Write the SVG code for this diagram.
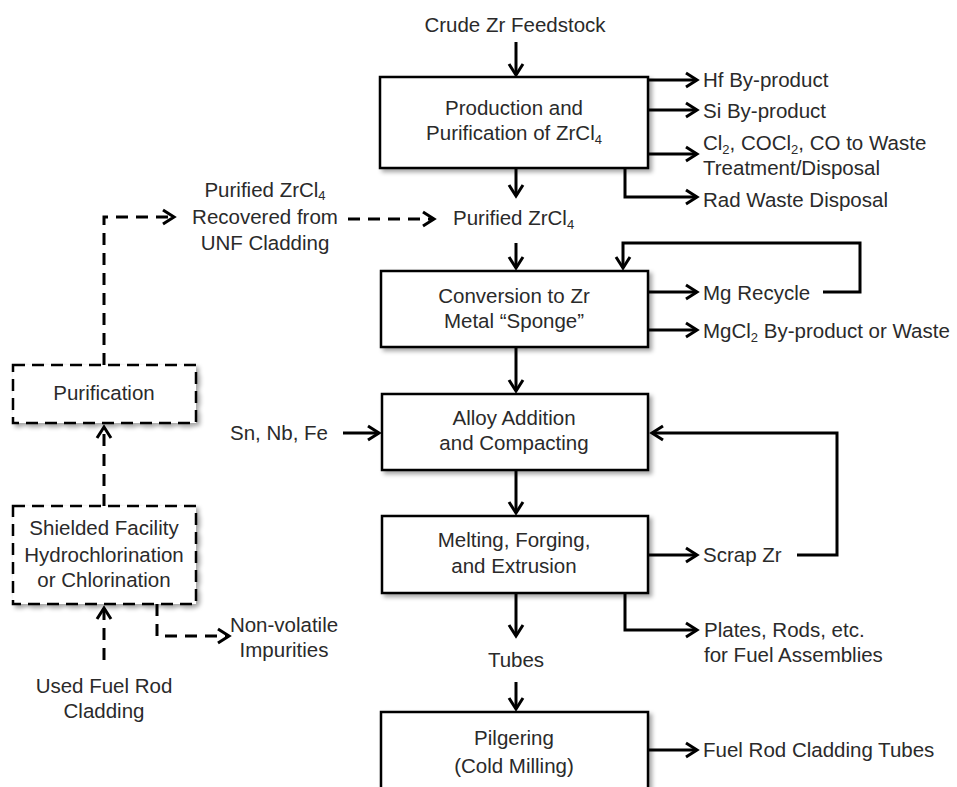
<svg xmlns="http://www.w3.org/2000/svg" width="957" height="787" viewBox="0 0 957 787">
<style>
text{font-family:"Liberation Sans",Arial,sans-serif;font-size:20.5px;fill:#2a2a2a}
.m{text-anchor:middle}
.box{fill:#fff;stroke:#000;stroke-width:2.5;filter:url(#sh)}
.dbox{fill:#fff;stroke:#000;stroke-width:2.5;stroke-dasharray:12 7;filter:url(#sh)}
.c{fill:none;stroke:#000;stroke-width:3;marker-end:url(#ah)}
.d{fill:none;stroke:#000;stroke-width:3;stroke-dasharray:12 8;marker-end:url(#ah)}
.sub{font-size:13px}
</style>
<defs>
<filter id="sh" x="-10%" y="-10%" width="125%" height="130%">
<feDropShadow dx="3" dy="3" stdDeviation="2" flood-color="#000" flood-opacity="0.35"/>
</filter>
<marker id="ah" markerUnits="userSpaceOnUse" viewBox="0 0 16 18" refX="13" refY="9" markerWidth="16" markerHeight="18" orient="auto">
<path d="M2,2 L13,9 L2,16" fill="none" stroke="#000" stroke-width="3"/>
</marker>
</defs>
<rect width="957" height="787" fill="#fff"/>
<g id="connectors">
<path class="c" d="M516,42 V75"/>
<path class="c" d="M648,80 H697"/>
<path class="c" d="M648,110 H697"/>
<path class="c" d="M648,154 H697"/>
<path class="c" d="M625,168 V197 H697"/>
<path class="c" d="M516,168 V196"/>
<path class="c" d="M516,243 V268"/>
<path class="c" d="M648,292 H697"/>
<path class="c" d="M823,292 H860 V243 H623 V268"/>
<path class="c" d="M648,330 H697"/>
<path class="c" d="M516,347 V391"/>
<path class="c" d="M343,433 H379"/>
<path class="c" d="M516,470 V513"/>
<path class="c" d="M648,555 H697"/>
<path class="c" d="M797,555 H837 V433 H652"/>
<path class="c" d="M625,593 V630 H697"/>
<path class="c" d="M516,593 V636"/>
<path class="c" d="M516,682 V709"/>
<path class="c" d="M648,750 H697"/>
<path class="d" d="M104,660 V608"/>
<path class="d" d="M104,506 V427"/>
<path class="d" d="M104,365 V217 H174"/>
<path class="d" d="M348,219 H434"/>
<path class="d" d="M157,604 V636 H229"/>
</g>
<g id="crude"><text class="m" x="515" y="32">Crude Zr Feedstock</text></g>
<g id="production">
<rect class="box" x="380" y="77" width="268" height="91"/>
<text class="m" x="514" y="115">Production and</text>
<text class="m" x="514" y="140">Purification of ZrCl<tspan class="sub" dy="4">4</tspan></text>
</g>
<g id="hf"><text x="703" y="87">Hf By-product</text></g>
<g id="si"><text x="703" y="118">Si By-product</text></g>
<g id="cl2"><text x="703" y="150">Cl<tspan class="sub" dy="4">2</tspan><tspan dy="-4">, COCl</tspan><tspan class="sub" dy="4">2</tspan><tspan dy="-4">, CO to Waste</tspan></text>
<text x="703" y="175">Treatment/Disposal</text></g>
<g id="rad"><text x="703" y="207">Rad Waste Disposal</text></g>
<g id="purified"><text x="453" y="225">Purified ZrCl<tspan class="sub" dy="4">4</tspan></text></g>
<g id="recovered">
<text class="m" x="265" y="197">Purified ZrCl<tspan class="sub" dy="3">4</tspan></text>
<text class="m" x="265" y="224">Recovered from</text>
<text class="m" x="265" y="250">UNF Cladding</text>
</g>
<g id="conversion">
<rect class="box" x="381" y="271" width="267" height="76"/>
<text class="m" x="514" y="303">Conversion to Zr</text>
<text class="m" x="514" y="328">Metal “Sponge”</text>
</g>
<g id="mg"><text x="703" y="300">Mg Recycle</text></g>
<g id="mgcl2"><text x="703" y="338">MgCl<tspan class="sub" dy="4">2</tspan><tspan dy="-4"> By-product or Waste</tspan></text></g>
<g id="purification">
<rect class="dbox" x="13" y="365" width="183" height="58"/>
<text class="m" x="104" y="400">Purification</text>
</g>
<g id="snnbfe"><text x="230" y="440">Sn, Nb, Fe</text></g>
<g id="alloy">
<rect class="box" x="382" y="394" width="266" height="76"/>
<text class="m" x="514" y="425">Alloy Addition</text>
<text class="m" x="514" y="450">and Compacting</text>
</g>
<g id="melting">
<rect class="box" x="382" y="516" width="266" height="77"/>
<text class="m" x="514" y="547">Melting, Forging,</text>
<text class="m" x="514" y="573">and Extrusion</text>
</g>
<g id="scrap"><text x="703" y="562">Scrap Zr</text></g>
<g id="shielded">
<rect class="dbox" x="13" y="506" width="183" height="98"/>
<text class="m" x="104" y="535">Shielded Facility</text>
<text class="m" x="104" y="562">Hydrochlorination</text>
<text class="m" x="104" y="587">or Chlorination</text>
</g>
<g id="nonvolatile">
<text class="m" x="284" y="632">Non-volatile</text>
<text class="m" x="284" y="657">Impurities</text>
</g>
<g id="plates">
<text x="704" y="637">Plates, Rods, etc.</text>
<text x="704" y="662">for Fuel Assemblies</text>
</g>
<g id="tubes"><text class="m" x="516" y="667">Tubes</text></g>
<g id="used">
<text class="m" x="104" y="693">Used Fuel Rod</text>
<text class="m" x="104" y="718">Cladding</text>
</g>
<g id="pilgering">
<rect class="box" x="381" y="712" width="267" height="100"/>
<text class="m" x="514" y="745">Pilgering</text>
<text class="m" x="514" y="773">(Cold Milling)</text>
</g>
<g id="fuelrod"><text x="703" y="757">Fuel Rod Cladding Tubes</text></g>
</svg>
